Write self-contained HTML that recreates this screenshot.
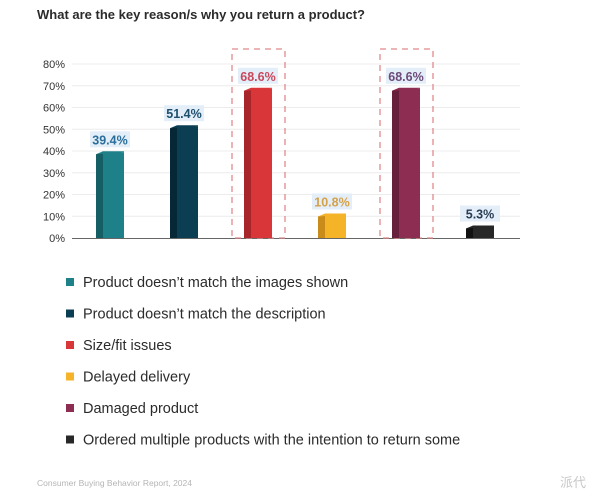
<!DOCTYPE html>
<html><head><meta charset="utf-8"><style>
body{margin:0;background:#fff;width:600px;height:500px;overflow:hidden;font-family:"Liberation Sans",sans-serif}
svg{display:block}
</style></head><body>
<svg id="c" width="600" height="500" xmlns="http://www.w3.org/2000/svg">
<text x="37" y="19" font-size="13" font-weight="bold" fill="#2b2b2b">What are the key reason/s why you return a product?</text>
<text x="37" y="486" font-size="8.5" fill="#b5b5b5">Consumer Buying Behavior Report, 2024</text>
<text x="560" y="487" font-size="13" fill="#c8c8c8" font-family="'Liberation Sans','Noto Sans CJK SC',sans-serif">派代</text>
<g id="grid"></g><g id="bars"></g><g id="legend"></g>
</svg>
<script>
const categories=["Product doesn’t match the images shown","Product doesn’t match the description","Size/fit issues","Delayed delivery","Damaged product","Ordered multiple products with the intention to return some"];
const values=[39.4,51.4,68.6,10.8,68.6,5.3];
const labels=["39.4%","51.4%","68.6%","10.8%","68.6%","5.3%"];
const ticks=[0,10,20,30,40,50,60,70,80];
const highlighted=[false,false,true,false,true,false];
const colors=["#1e8189","#0b3e52","#d9363a","#f5b328","#8d2d52","#272727"];
const sides=["#145e64","#062836","#a8262a","#c98c1a","#66203b","#111"];
const labelColors=["#2a6f9c","#1d4f6e","#c9485c","#d4a24a","#6d4a7a","#2b3d55"];
const NS="http://www.w3.org/2000/svg";
const y=v=>238-v*(174/80);
const xc=i=>110+i*74;
function mk(t,a,p){const e=document.createElementNS(NS,t);for(const k in a)e.setAttribute(k,a[k]);p.appendChild(e);return e;}
const g=document.getElementById('grid'),b=document.getElementById('bars'),lg=document.getElementById('legend');
ticks.forEach(t=>{
 if(t>0){const l=mk('line',{x1:72,x2:520,y1:y(t),y2:y(t),stroke:'#ececec','stroke-width':1},g);
 
 }
 const tx=mk('text',{x:65,y:y(t)+4,'font-size':11,fill:'#333','text-anchor':'end'},g);tx.textContent=t+'%';
 
 
});
const ax=mk('line',{x1:72,x2:520,y1:238.5,y2:238.5,stroke:'#666','stroke-width':1},g);


values.forEach((v,i)=>{
 const c=xc(i),top=y(v);
 if(highlighted[i]){const r=mk('rect',{x:c-26,y:49,width:53,height:189,fill:'none',stroke:'#e08a8a','stroke-width':1.3,'stroke-dasharray':'6 5'},b);
 
 }
 const s=mk('polygon',{points:`${c-14},${top+2} ${c-7},${top} ${c-7},238 ${c-14},238`,fill:sides[i]},b);
 
 
 const f=mk('rect',{x:c-7,y:top,width:21,height:238-top,fill:colors[i]},b);
 
 
 const tp=mk('polygon',{points:`${c-14},${top+2} ${c-7},${top-1} ${c+14},${top-1} ${c+14},${top}`,fill:colors[i]},b);
 
 
 const bg=mk('rect',{x:c-20,y:top-21,width:40,height:16,fill:'#e3eef8'},b);
 
 
 const t=mk('text',{x:c,y:top-8,'font-size':12.5,'font-weight':'bold',fill:labelColors[i],'text-anchor':'middle'},b);t.textContent=labels[i];
 
 
});
categories.forEach((n,i)=>{
 const yy=282+i*31.5;
 const r=mk('rect',{x:66,y:yy-4,width:8,height:8,fill:colors[i]},lg);
 
 
 const t=mk('text',{x:83,y:yy+5,'font-size':14.5,fill:'#2b2b2b'},lg);t.textContent=n;
 
 
});
</script>
</body></html>
